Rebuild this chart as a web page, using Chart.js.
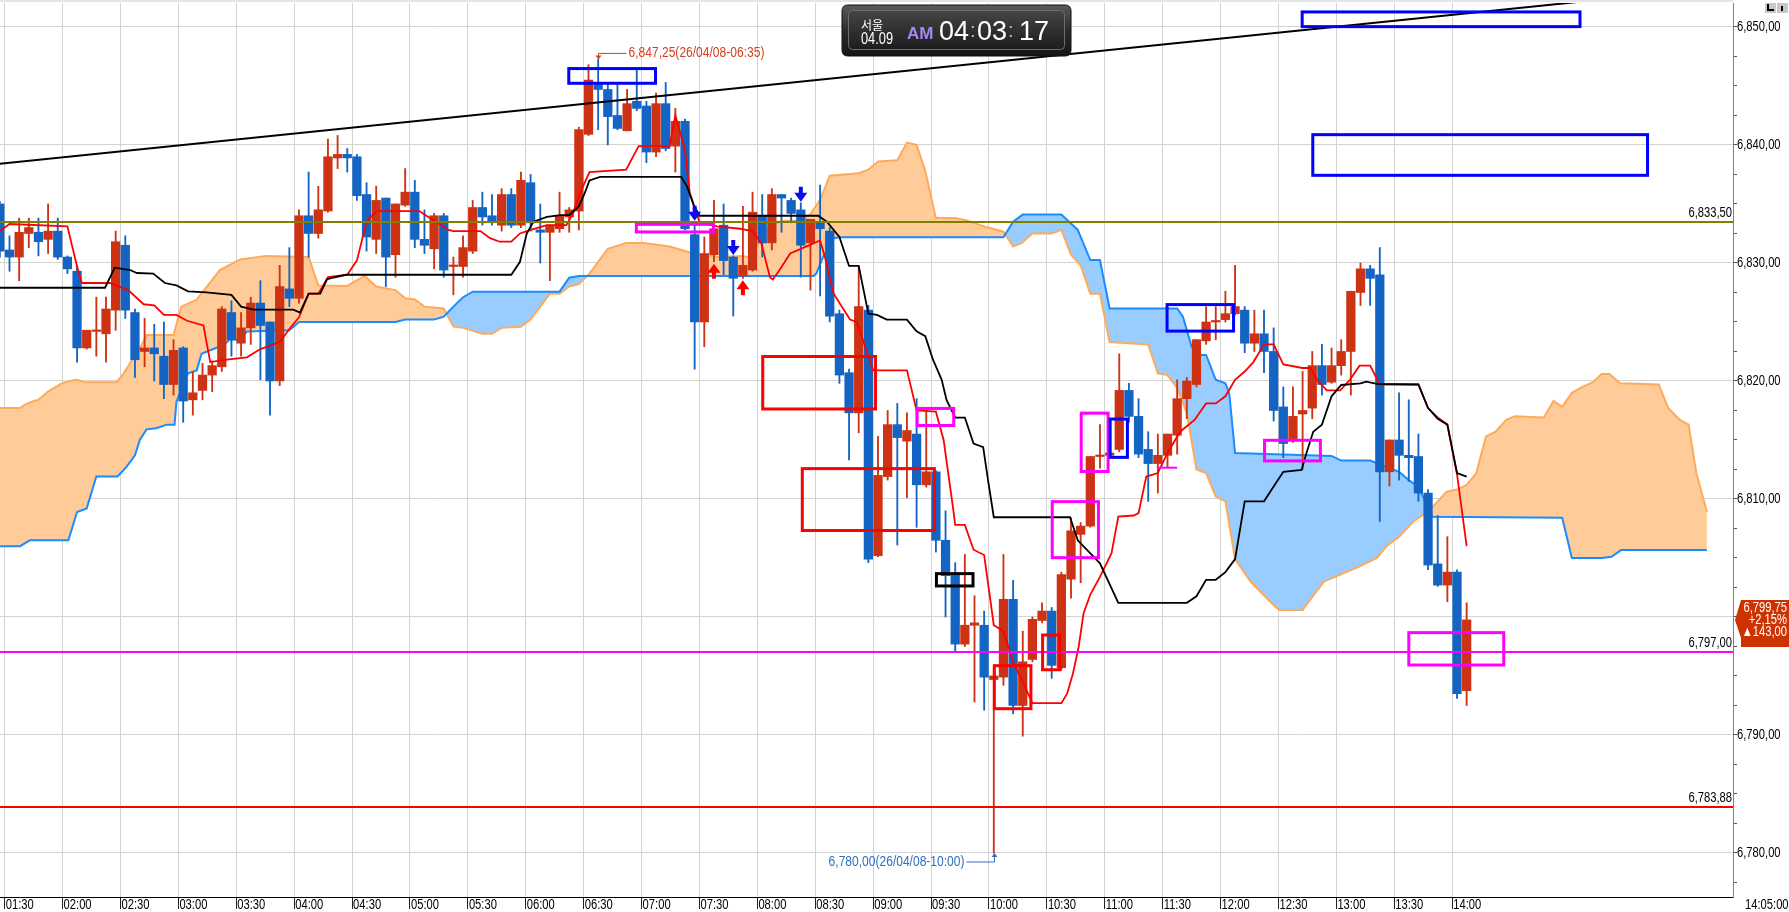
<!DOCTYPE html>
<html>
<head>
<meta charset="utf-8">
<script src="https://cdn.jsdelivr.net/npm/chart.js"></script>
<style>
html, body { margin: 0; padding: 0; background: #fff; overflow: hidden; }
canvas { display: block; }
</style>
</head>
<body>
<canvas id="chart" width="1789" height="912"></canvas>
<script>
const ctx = document.getElementById('chart');

// ---- data (5 min candles, index 1 = 01:30) ----
const timeLabels = ['01:30','02:00','02:30','03:00','03:30','04:00','04:30','05:00','05:30','06:00',
  '06:30','07:00','07:30','08:00','08:30','09:00','09:30','10:00','10:30','11:00',
  '11:30','12:00','12:30','13:00','13:30','14:00'];
const lastTime = '14:05:00';
const tradeDate = '26/04/08';

const opens = [
  6835.0,6831.1,6830.5,6832.5,6832.6,6832.0,6832.7,6830.5,6829.3,6822.8,
  6824.2,6824.0,6826.0,6831.5,6825.8,6822.5,6822.8,6822.1,6819.7,6822.8,
  6818.4,6819.2,6820.5,6821.2,6825.8,6823.2,6824.5,6826.6,6825.0,6820.0,
  6827.8,6827.0,6834.0,6832.5,6834.4,6838.9,6839.2,6839.0,6835.8,6832.0,
  6835.5,6830.7,6834.9,6836.0,6832.0,6831.2,6834.0,6829.7,6829.7,6831.0,
  6834.7,6834.0,6833.2,6835.8,6833.2,6836.8,6832.8,6832.6,6832.9,6833.9,
  6834.4,6840.9,6845.1,6844.7,6842.5,6841.2,6843.7,6843.3,6839.4,6843.5,
  6839.9,6842.0,6832.4,6825.0,6830.7,6833.2,6830.5,6828.9,6829.4,6834.0,
  6831.7,6835.8,6835.3,6834.5,6831.7,6833.5,6832.7,6825.7,6820.7,6817.3,
  6826.0,6805.2,6811.9,6816.3,6814.9,6815.5,6811.2,6812.3,6806.5,6803.6,
  6797.7,6799.3,6799.3,6794.7,6794.9,6801.5,6792.5,6796.4,6799.7,6800.5,
  6795.7,6803.2,6807.0,6807.7,6813.6,6813.7,6814.2,6819.2,6817.0,6814.2,
  6813.0,6813.7,6815.4,6818.5,6819.7,6823.4,6825.0,6825.2,6825.7,6826.0,
  6823.2,6824.0,6822.5,6817.8,6815.0,6817.2,6817.7,6821.3,6819.9,6821.3,
  6822.5,6827.5,6829.5,6829.0,6812.3,6815.0,6813.7,6813.6,6810.5,6804.5,
  6802.7,6803.8,6793.75];
const highs = [
  6835.2,6832.3,6833.8,6833.8,6833.8,6835.0,6833.8,6830.6,6829.8,6824.3,
  6827.1,6827.1,6832.7,6832.3,6826.1,6825.3,6824.8,6825.0,6823.5,6822.9,
  6820.8,6821.5,6821.7,6826.3,6826.8,6825.8,6827.1,6828.5,6825.0,6829.8,
  6831.3,6834.5,6837.7,6836.5,6840.5,6840.8,6839.7,6839.2,6836.8,6836.5,
  6835.5,6835.0,6838.0,6837.0,6834.5,6834.2,6834.2,6830.5,6832.3,6835.3,
  6836.0,6835.8,6836.3,6836.3,6837.7,6837.5,6835.0,6833.2,6836.0,6834.7,
  6841.5,6846.8,6847.25,6845.1,6845.1,6844.7,6846.4,6843.7,6844.4,6845.3,
  6843.1,6842.2,6833.5,6832.2,6835.3,6835.0,6830.6,6834.8,6836.0,6835.8,
  6836.3,6835.8,6835.5,6835.1,6833.7,6836.6,6833.0,6826.0,6821.0,6829.7,
  6826.4,6815.3,6817.5,6818.1,6817.3,6818.5,6817.5,6812.4,6809.0,6804.6,
  6805.3,6801.8,6800.5,6795.8,6805.3,6803.1,6798.8,6800.0,6801.2,6800.8,
  6803.8,6808.4,6808.0,6813.6,6816.3,6814.0,6822.3,6819.8,6818.5,6815.7,
  6815.5,6815.5,6820.1,6820.3,6823.5,6826.3,6826.3,6827.6,6829.8,6826.3,
  6826.0,6826.0,6824.5,6819.5,6819.5,6820.8,6822.5,6823.1,6822.8,6823.5,
  6827.6,6830.0,6829.8,6831.3,6815.0,6819.0,6818.4,6815.5,6810.8,6808.6,
  6806.8,6804.0,6801.2];
const lows = [
  6830.5,6829.3,6828.5,6831.3,6830.6,6830.8,6830.3,6829.1,6821.6,6822.7,
  6822.1,6821.6,6824.3,6825.3,6820.3,6821.2,6820.0,6818.5,6818.8,6816.5,
  6817.1,6818.4,6819.1,6820.8,6822.1,6822.1,6823.1,6820.1,6817.1,6819.6,
  6826.3,6826.6,6830.5,6832.1,6834.3,6838.0,6837.7,6835.3,6831.0,6830.8,
  6828.0,6828.8,6834.8,6831.3,6830.8,6829.5,6828.8,6827.3,6828.8,6830.8,
  6833.2,6833.2,6832.7,6833.0,6833.0,6832.7,6830.0,6828.5,6832.6,6832.6,
  6832.8,6840.8,6841.3,6840.0,6841.3,6841.2,6842.9,6838.5,6839.0,6839.5,
  6837.7,6832.8,6821.0,6822.9,6830.1,6829.0,6825.5,6828.7,6829.3,6830.5,
  6831.1,6832.6,6833.4,6828.8,6827.7,6827.2,6825.0,6819.8,6813.3,6815.6,
  6804.6,6805.1,6811.6,6806.1,6810.1,6807.6,6811.0,6805.5,6800.0,6797.1,
  6797.5,6792.8,6792.1,6780.0,6794.2,6791.8,6789.9,6796.2,6799.5,6794.8,
  6795.5,6801.6,6802.9,6807.6,6812.6,6813.6,6814.0,6816.5,6813.5,6809.8,
  6810.5,6812.7,6813.8,6816.8,6819.5,6823.1,6823.5,6825.0,6825.6,6822.4,
  6822.5,6820.7,6816.6,6813.5,6814.8,6812.5,6816.8,6818.8,6819.8,6820.5,
  6818.8,6826.4,6826.4,6808.1,6811.1,6811.6,6811.5,6809.8,6804.0,6802.6,
  6801.3,6793.1,6792.5];
const closes = [
  6831.0,6830.5,6832.6,6833.0,6831.8,6832.7,6830.5,6829.5,6822.8,6824.3,
  6824.3,6826.1,6831.8,6826.0,6821.8,6822.8,6822.3,6819.7,6822.6,6818.3,
  6819.0,6820.5,6821.3,6826.1,6823.5,6824.5,6826.6,6824.7,6820.0,6828.0,
  6827.0,6834.0,6832.5,6834.5,6839.0,6839.2,6838.9,6835.7,6832.2,6835.3,
  6830.5,6835.0,6836.0,6832.0,6831.5,6834.0,6829.4,6829.8,6831.3,6834.7,
  6833.9,6833.5,6835.8,6833.2,6837.0,6833.4,6832.6,6833.2,6834.0,6834.5,
  6841.3,6845.5,6844.7,6842.4,6841.4,6843.5,6843.1,6839.4,6843.5,6839.7,
  6842.0,6832.9,6825.0,6830.8,6832.9,6830.2,6828.7,6829.8,6834.3,6831.7,
  6835.8,6835.5,6834.2,6831.5,6833.7,6832.9,6825.5,6820.5,6817.3,6826.3,
  6804.9,6812.0,6816.3,6815.2,6815.8,6811.2,6812.3,6806.5,6803.5,6797.7,
  6799.3,6799.5,6794.9,6795.0,6801.5,6792.5,6796.2,6799.8,6800.5,6795.9,
  6803.6,6807.3,6807.7,6813.6,6813.7,6813.9,6819.2,6817.0,6813.8,6813.0,
  6813.7,6815.5,6818.5,6820.0,6823.5,6825.0,6825.1,6825.7,6826.3,6823.2,
  6824.0,6822.5,6817.5,6814.7,6817.0,6817.5,6821.3,6819.7,6821.3,6822.5,
  6827.6,6829.5,6828.7,6812.3,6815.0,6813.7,6813.5,6810.5,6804.4,6802.7,
  6803.8,6793.5,6799.75];

// Ichimoku lines as [candle index, value] read at their corners
const tenkanPts = [
  [0,6832.7],[1,6833.3],[7,6833.1],[8,6829.7],[8.5,6828.3],[11.4,6828.3],[13.3,6827.7],[14.9,6826.5],
  [16,6826.4],[17,6825.6],[18.3,6825.6],[19.4,6825.1],[21.1,6824.7],[21.8,6821.6],[23.5,6821.8],
  [25.6,6822.0],[27,6822.7],[29,6823.3],[30,6824.4],[31,6825.4],[32,6827.4],[33,6827.4],[34,6828.8],
  [36,6829.0],[37,6830.2],[38,6833.5],[39,6834.4],[43.5,6834.4],[44,6834.1],[46.5,6832.8],[47,6832.7],
  [49.8,6832.7],[50.8,6832.1],[51.8,6831.8],[53,6831.8],[53.9,6832.5],[55,6832.8],[56.7,6833.2],
  [58.7,6833.2],[59.4,6834.2],[60.1,6835.9],[61.1,6837.7],[64.9,6837.9],[66.2,6839.9],[69.4,6839.9],
  [70,6842.5],[71,6839.6],[71.5,6835.9],[72.5,6833.5],[74.3,6833.1],[76.7,6832.9],[78,6832.7],
  [78.9,6831.7],[79.8,6828.8],[80.1,6828.6],[80.8,6829.4],[81.9,6830.8],[83.6,6831.4],[85,6831.9],
  [85.5,6830.5],[86.4,6827.4],[88.1,6825.2],[88.8,6825.0],[90.5,6820.9],[94,6820.9],[95,6817.5],
  [97,6817.4],[97.8,6815.0],[98.8,6809.1],[99,6807.8],[100,6807.8],[100.9,6805.7],[102,6805.25],
  [103,6799.3],[104,6798.8],[105,6796.2],[106,6794.5],[107,6792.7],[110,6792.7],[110.6,6793.5],
  [111.2,6795.2],[111.8,6797.5],[112.3,6800.3],[113,6801.9],[114,6803.4],[115.2,6805.4],[115.9,6808.5],
  [117.5,6808.6],[118,6808.8],[118.8,6811.9],[120,6812.2],[121,6813.9],[122.3,6815.7],[123.8,6816.7],
  [125,6818.1],[126,6818.1],[127,6818.7],[128,6820.1],[129,6820.8],[129.9,6821.6],[131,6823.1],
  [132,6823.1],[133,6821.4],[135,6821.1],[135.8,6821.1],[136.5,6820.1],[137.5,6819.2],[138.9,6819.2],
  [139.9,6820.1],[140.9,6821.3],[142,6821.3],[143,6819.7],[147,6819.7],[148,6817.7],[149,6816.9],
  [150,6816.3],[151,6812.1],[152,6806.0]];
const kijunPts = [
  [0,6827.9],[10.9,6827.9],[11.9,6829.6],[13.5,6829.4],[14.2,6829.15],[15.9,6829.1],[17.1,6828.3],
  [18.3,6828.1],[19.5,6827.6],[21.4,6827.5],[24,6827.3],[25,6826.3],[26.3,6826.05],[30.4,6826.05],
  [31.1,6825.8],[32,6827.4],[33.2,6827.4],[33.9,6828.6],[34.2,6828.7],[35.9,6829.0],[53,6829.0],
  [53.9,6830.1],[54.6,6832.5],[55.3,6833.5],[56.7,6833.9],[58.1,6834.05],[59,6834.05],[60,6834.8],
  [60.6,6835.9],[61.1,6837.0],[62.2,6837.3],[70.6,6837.3],[71.2,6836.5],[71.9,6834.9],[72.5,6834.0],
  [84.8,6834.0],[85.7,6833.5],[87,6832.2],[88,6829.75],[89,6829.75],[90,6825.7],[90.9,6825.6],
  [91.9,6825.2],[94,6825.2],[95,6824.2],[95.9,6823.8],[96.7,6821.8],[97.6,6820.1],[98.1,6818.4],
  [99,6816.9],[100,6816.9],[100.9,6814.7],[101.9,6814.4],[102.4,6811.6],[103,6808.45],[110.9,6808.45],
  [111.7,6806.5],[114,6804.55],[115.9,6801.2],[123,6801.2],[124,6801.75],[125,6803.15],[126,6803.15],
  [127,6803.8],[128,6804.9],[129,6809.8],[131,6809.8],[132,6811.05],[133,6812.3],[134.9,6812.46],
  [135.4,6813.9],[136.1,6815.7],[137,6816.3],[138,6818.7],[139,6819.66],[141,6819.8],[141.6,6819.95],
  [142.7,6819.75],[147,6819.7],[148,6817.7],[149,6816.8],[150,6816.3],[151,6812.2],[152,6811.9]];
const spanAPts = [
  [0,6817.7],[2.1,6817.7],[2.6,6818.0],[3.5,6818.3],[4,6818.4],[5,6819.1],[6.4,6819.8],[7.3,6820.0],
  [8,6820.1],[8.8,6819.9],[12.1,6819.9],[12.8,6820.6],[13.8,6821.9],[14.7,6823.05],[15.2,6823.9],
  [18,6823.9],[18.8,6826.3],[20.4,6826.9],[22.8,6829.4],[24.9,6830.3],[27.6,6830.6],[32,6830.5],
  [33,6828.1],[36,6828.05],[37.8,6828.9],[39,6828.0],[41,6827.7],[42,6827.0],[43,6826.9],[44,6826.3],
  [46,6826.15],[47,6824.6],[48,6824.5],[50,6824.0],[51,6824.0],[52,6824.5],[54,6824.6],[55,6825.2],
  [56,6826.3],[57,6827.4],[58,6827.4],[59,6828.0],[60,6828.2],[61.1,6829.1],[63,6831.2],[64.9,6831.7],
  [66.7,6831.7],[69.4,6831.4],[71.9,6830.8],[74.6,6830.5],[77,6830.6],[78,6830.4],[79,6832.5],
  [80,6833.15],[81,6833.55],[83,6833.6],[84,6834.15],[85,6835.35],[86,6837.4],[89,6837.6],[90,6837.9],
  [91,6838.6],[93,6838.7],[94,6840.2],[95,6840.0],[95.9,6837.8],[97,6833.8],[99,6833.8],[100.2,6833.6],
  [102,6833.1],[104,6832.65],[105,6831.4],[105.9,6831.7],[107,6832.5],[109,6832.5],[110,6832.8],
  [111,6830.7],[112,6829.8],[113,6827.4],[114,6827.4],[115,6823.3],[119,6823.1],[120,6820.65],
  [121,6820.5],[122,6819.4],[123,6817.3],[124,6812.5],[125,6812.2],[126,6810.2],[127,6809.8],
  [128,6804.9],[129.6,6803.0],[132,6801.0],[132.6,6800.6],[135,6800.6],[137.2,6803.0],[140.7,6804.2],
  [142.7,6805.0],[143.7,6806.0],[145,6806.8],[146.5,6808.1],[147.7,6808.8],[148.5,6809.35],
  [149.9,6810.6],[151,6810.8],[152,6811.2],[153,6812.2],[154,6815.3],[155,6815.7],[156.1,6816.7],
  [157,6817.0],[160,6816.9],[161,6818.3],[161.9,6817.8],[162.9,6819.0],[164,6819.5],[165.1,6819.9],
  [166,6820.6],[166.8,6820.6],[167.9,6819.8],[171.9,6819.7],[172.9,6817.7],[174.1,6816.7],
  [175,6816.3],[175.8,6812.2],[176.9,6808.9]];
const spanBPts = [
  [0,6806.0],[2.1,6806.0],[3.1,6806.5],[7.1,6806.5],[8,6808.9],[9,6809.2],[10,6811.9],[12.2,6811.9],
  [13.1,6812.7],[14,6813.7],[14.5,6815.0],[15.2,6815.9],[16.2,6816.0],[17.3,6816.3],[18.1,6816.3],
  [18.3,6818.25],[19.5,6820.65],[20.4,6820.9],[20.9,6822.3],[21.8,6822.6],[23.2,6823.05],[23.8,6823.5],
  [24.9,6823.5],[25.6,6824.2],[30,6824.3],[31,6825.0],[41,6825.0],[42,6825.2],[45,6825.2],
  [46,6825.45],[47,6826.3],[48,6827.1],[49,6827.57],[58,6827.57],[59,6828.75],[60,6828.9],
  [84.3,6828.9],[84.6,6829.1],[85.3,6830.5],[86.4,6832.1],[87,6832.17],[104,6832.17],[105,6833.5],
  [106,6834.1],[110,6834.1],[111.7,6832.8],[113,6830.25],[114,6830.25],[115,6826.15],[122,6826.15],
  [122.6,6825.45],[123.5,6822.9],[124.3,6822.2],[125,6822.2],[126,6820.1],[127,6819.8],
  [127.4,6818.95],[128,6813.9],[138,6813.65],[139,6813.25],[142,6813.25],[145,6812.3],[146,6811.6],
  [147,6811.05],[148.4,6808.5],[161.9,6808.4],[162.9,6805.0],[166,6805.0],[167,6805.1],
  [168,6805.67],[176.9,6805.67]];

// drawn objects on the chart, in candle index / price units
const trendLine = [[0, 6838.4], [164.5, 6852.2]];
const levels = [6833.50, 6797.00, 6783.88];
const boxes = [
  [58.8, 68.1, 6846.6, 6845.1], [65.8, 74.1, 6833.4, 6832.5], [134.8, 163.9, 6851.4, 6849.9],
  [135.9, 170.9, 6841.0, 6837.3], [78.9, 90.9, 6822.2, 6817.5], [83.0, 97.0, 6812.7, 6807.2],
  [94.9, 99.0, 6817.8, 6816.1], [96.9, 101.0, 6803.8, 6802.5], [102.9, 107.0, 6796.0, 6792.1],
  [107.9, 110.0, 6798.6, 6795.4], [108.9, 114.0, 6809.9, 6804.9], [111.9, 115.0, 6817.4, 6812.2],
  [114.9, 117.0, 6816.9, 6813.4], [120.8, 128.0, 6826.6, 6824.1], [130.9, 137.0, 6815.1, 6813.1],
  [145.85, 156.0, 6798.8, 6795.8]];
const shortLine = [120, 122, 6812.65];
const sellSignals = [72, 76, 83];
const buySignals = [74, 77];
const changePct = '+2,15%';
const changePts = '\u25B2143,00';
const clockCity = '서울', clockDate = '04.09', clockAmPm = 'AM', clockTime = ['04', '03', '17'];

// ---- look ----
const FONT = "'Liberation Sans', sans-serif";
const UP = '#CD3214', DOWN = '#1464C3';
const levelColors = ['#808000', '#FF00FF', '#FF0000'];
const boxColors = ['#0000FF','#FF00FF','#0000FF','#0000FF','#FF0000','#FF0000','#FF00FF','#000000',
  '#FF0000','#FF0000','#FF00FF','#FF00FF','#0000FF','#0000FF','#FF00FF','#FF00FF'];

const xMin = 0.0155, xMax = 179.6, yMin = 6776.27, yMax = 6852.03;

const fmt = v => {
  const s = v.toFixed(2).split('.');
  return s[0].replace(/\B(?=(\d{3})+(?!\d))/g, ',') + ',' + s[1];
};
const timeOf = i => {
  const m = 90 + (i - 1) * 5;
  return String(Math.floor(m / 60)).padStart(2, '0') + ':' + String(m % 60).padStart(2, '0');
};
const pts = arr => arr.map(p => ({x: p[0], y: p[1]}));
const candleColors = closes.map((c, i) => c >= opens[i] ? UP : DOWN);

// narrow text, the HTS font is tall and condensed
const txt = (c, s, x, y, align, base, size, color, sx) => {
  c.save();
  c.translate(x, y);
  c.scale(sx || 0.8, 1);
  c.font = size + 'px ' + FONT;
  c.fillStyle = color;
  c.textAlign = align;
  c.textBaseline = base;
  c.fillText(s, 0, 0);
  c.restore();
};

const roundRect = (c, x, y, w, h, r) => {
  c.beginPath();
  c.moveTo(x + r, y); c.lineTo(x + w - r, y); c.quadraticCurveTo(x + w, y, x + w, y + r);
  c.lineTo(x + w, y + h - r); c.quadraticCurveTo(x + w, y + h, x + w - r, y + h);
  c.lineTo(x + r, y + h); c.quadraticCurveTo(x, y + h, x, y + h - r);
  c.lineTo(x, y + r); c.quadraticCurveTo(x, y, x + r, y); c.closePath();
};

const arrow = (c, x, tip, dir, color) => {
  const hh = 9, hw = 6.5, sh = 6, sw = 2;
  c.fillStyle = color;
  c.beginPath();
  c.moveTo(x, tip);
  c.lineTo(x - hw, tip - dir * hh); c.lineTo(x - sw, tip - dir * hh);
  c.lineTo(x - sw, tip - dir * (hh + sh)); c.lineTo(x + sw, tip - dir * (hh + sh));
  c.lineTo(x + sw, tip - dir * hh); c.lineTo(x + hw, tip - dir * hh);
  c.closePath(); c.fill();
};

const overlay = {
  id: 'overlay',
  beforeDraw(chart) {
    const c = chart.ctx;
    c.save();
    c.fillStyle = '#fff';
    c.fillRect(0, 0, chart.width, chart.height);
    c.fillStyle = '#e2e5e9';
    c.fillRect(0, 0, chart.chartArea.right, 2);
    c.restore();
  },
  afterDatasetsDraw(chart) {
    const c = chart.ctx, a = chart.chartArea;
    const X = v => chart.scales.x.getPixelForValue(v);
    const Y = v => chart.scales.y.getPixelForValue(v);
    c.save();
    c.beginPath(); c.rect(a.left, 0, a.right - a.left, a.bottom); c.clip();

    levels.forEach((v, k) => {
      const y = Math.round(Y(v));
      c.strokeStyle = levelColors[k]; c.lineWidth = 2;
      c.beginPath(); c.moveTo(a.left, y); c.lineTo(a.right, y); c.stroke();
      txt(c, fmt(v), a.right - 1, y - 1.5, 'right', 'bottom', 14, '#000');
    });

    c.lineWidth = 3;
    boxes.forEach((b, k) => {
      const x0 = X(b[0]), x1 = X(b[1]), y0 = Y(b[2]), y1 = Y(b[3]);
      c.strokeStyle = boxColors[k];
      c.strokeRect(x0 + 1.5, y0 + 1.5, x1 - x0 - 3, y1 - y0 - 3);
    });

    c.strokeStyle = '#FF00FF'; c.lineWidth = 2;
    c.beginPath(); c.moveTo(X(shortLine[0]), Y(shortLine[2])); c.lineTo(X(shortLine[1]), Y(shortLine[2])); c.stroke();

    sellSignals.forEach(i => arrow(c, X(i), Y(highs[i]) - 1, 1, '#0A0AEE'));
    buySignals.forEach(i => arrow(c, X(i), Y(lows[i]) + 2, -1, '#FF0000'));

    // highest / lowest price markers
    const hi = highs.indexOf(Math.max(...highs));
    const lo = lows.indexOf(Math.min(...lows));
    c.lineWidth = 1;
    let x = Math.round(X(hi)) + 0.5, y = Y(highs[hi]);
    c.strokeStyle = c.fillStyle = '#D2401E';
    c.beginPath(); c.moveTo(x, y - 6); c.lineTo(x + 28, y - 6); c.moveTo(x, y - 6); c.lineTo(x, y - 1); c.stroke();
    c.beginPath(); c.moveTo(x - 3, y - 4); c.lineTo(x + 3, y - 4); c.lineTo(x, y); c.closePath(); c.fill();
    txt(c, fmt(highs[hi]) + '(' + tradeDate + '-' + timeOf(hi) + ')', x + 30, y - 6, 'left', 'middle', 14, '#D2401E', 0.86);

    x = Math.round(X(lo)) + 0.5; y = Y(lows[lo]);
    c.strokeStyle = c.fillStyle = '#2E6FC4';
    c.beginPath(); c.moveTo(x, y + 9); c.lineTo(x - 28, y + 9); c.moveTo(x, y + 9); c.lineTo(x, y + 1); c.stroke();
    c.beginPath(); c.moveTo(x - 3, y + 4); c.lineTo(x + 3, y + 4); c.lineTo(x, y); c.closePath(); c.fill();
    txt(c, fmt(lows[lo]) + '(' + tradeDate + '-' + timeOf(lo) + ')', x - 30, y + 9, 'right', 'middle', 14, '#2E6FC4', 0.86);
    c.restore();
  },
  afterDraw(chart) {
    const c = chart.ctx, a = chart.chartArea;
    const xs = chart.scales.x, ys = chart.scales.y;
    c.save();

    // axis labels, taken from the scales' own ticks
    ys.ticks.forEach(t => {
      if (Math.abs(t.value % 10) < 0.01) {
        txt(c, fmt(t.value), a.right + 4, ys.getPixelForValue(t.value) + 0.5, 'left', 'middle', 14, '#000');
      }
    });
    xs.ticks.forEach((t, k) => {
      txt(c, timeLabels[k], xs.getPixelForValue(t.value) + 1, a.bottom + 1.5, 'left', 'top', 14, '#000');
    });
    txt(c, lastTime, a.right + 12, a.bottom + 1.5, 'left', 'top', 14, '#000');

    // last price tag
    const last = closes.length - 1;
    const py = ys.getPixelForValue(closes[last]);
    c.fillStyle = '#CC3300';
    c.beginPath();
    c.moveTo(a.right + 2, py); c.lineTo(a.right + 8, py - 20); c.lineTo(chart.width, py - 20);
    c.lineTo(chart.width, py + 27); c.lineTo(a.right + 8, py + 27); c.lineTo(a.right + 8, py + 18);
    c.closePath(); c.fill();
    txt(c, fmt(closes[last]), chart.width - 2, py - 8, 'right', 'alphabetic', 14, '#fff');
    txt(c, changePct, chart.width - 2, py + 4, 'right', 'alphabetic', 14, '#fff');
    txt(c, changePts, chart.width - 2, py + 16, 'right', 'alphabetic', 14, '#fff');

    // corner buttons
    c.fillStyle = '#c9c9c9';
    c.fillRect(1765, 3, 11, 10); c.fillRect(1777, 3, 11, 10);
    c.fillStyle = '#000';
    c.fillRect(1767, 4, 2, 7); c.fillRect(1767, 9, 7, 2); c.fillRect(1781, 6, 2, 5);

    // clock widget
    let g = c.createLinearGradient(0, 5, 0, 56);
    g.addColorStop(0, '#5a5a5a'); g.addColorStop(0.5, '#2c2c2c'); g.addColorStop(1, '#151515');
    roundRect(c, 842, 5, 229, 51, 6);
    c.fillStyle = g; c.fill();
    c.strokeStyle = '#111'; c.lineWidth = 1; c.stroke();
    g = c.createLinearGradient(0, 11, 0, 50);
    g.addColorStop(0, '#444'); g.addColorStop(1, '#1c1c1c');
    roundRect(c, 848.5, 10.5, 216, 39, 4);
    c.fillStyle = g; c.fill();
    c.strokeStyle = '#6e6e6e'; c.stroke();
    c.fillStyle = '#fff'; c.textAlign = 'left'; c.textBaseline = 'alphabetic';
    c.font = "12px 'Noto Sans CJK KR', sans-serif";
    c.fillText(clockCity, 861, 30);
    txt(c, clockDate, 861, 43.5, 'left', 'alphabetic', 16, '#fff');
    c.fillStyle = '#A587F0';
    c.font = "bold 17px 'Liberation Sans', sans-serif";
    c.fillText(clockAmPm, 907, 38.5);
    c.fillStyle = '#fff';
    c.font = "27px 'Liberation Sans', sans-serif";
    c.fillText(clockTime[0], 939, 39.5);
    c.fillText(clockTime[1], 977, 39.5);
    c.fillText(clockTime[2], 1019, 39.5);
    c.fillStyle = '#bbb';
    c.font = "20px 'Liberation Sans', sans-serif";
    c.fillText(':', 970, 37); c.fillText(':', 1008, 37);
    c.restore();
  }
};

const data = {
  datasets: [
    {
      type: 'line', label: 'span A', data: pts(spanAPts), order: 10,
      borderColor: '#FFAA5A', borderWidth: 2, pointRadius: 0, tension: 0,
      fill: {target: 1, above: '#FFCC99', below: '#99CCFF'}
    },
    {
      type: 'line', label: 'span B', data: pts(spanBPts), order: 9,
      borderColor: '#1A8CFF', borderWidth: 2, pointRadius: 0, tension: 0, fill: false
    },
    {
      type: 'bar', label: 'wick', order: 8, grouped: false,
      data: lows.map((l, i) => ({x: i, y: [l, highs[i]]})),
      backgroundColor: candleColors, barThickness: 1.2, borderWidth: 0, minBarLength: 1
    },
    {
      type: 'bar', label: 'body', order: 7, grouped: false,
      data: opens.map((o, i) => ({x: i, y: [o, closes[i]]})),
      backgroundColor: candleColors, barThickness: 8.6, borderWidth: 0, minBarLength: 1.5
    },
    {
      type: 'line', label: 'tenkan', data: pts(tenkanPts), order: 5,
      borderColor: '#FF0000', borderWidth: 1.8, pointRadius: 0, tension: 0, fill: false
    },
    {
      type: 'line', label: 'kijun', data: pts(kijunPts), order: 4,
      borderColor: '#000000', borderWidth: 1.8, pointRadius: 0, tension: 0, fill: false
    },
    {
      type: 'line', label: 'trend', data: pts(trendLine), order: 3,
      borderColor: '#000000', borderWidth: 2, pointRadius: 0, fill: false
    }
  ]
};

const config = {
  type: 'line',
  data: data,
  options: {
    responsive: false,
    animation: false,
    events: [],
    layout: {padding: {top: 3, left: 0, right: 0, bottom: 0}},
    plugins: {legend: {display: false}, tooltip: {enabled: false}},
    scales: {
      x: {
        type: 'linear', position: 'bottom', min: xMin, max: xMax, offset: false,
        afterBuildTicks: s => { s.ticks = timeLabels.map((t, k) => ({value: 0.5 + 6 * k})); },
        afterFit: s => { s.height = 15; s.paddingLeft = 0; s.paddingRight = 0; },
        grid: {color: '#d3d3d3', offset: false, tickLength: 12, tickColor: '#222'},
        border: {color: '#000', width: 1},
        ticks: {display: false, autoSkip: false, maxRotation: 0}
      },
      y: {
        type: 'linear', position: 'right', min: yMin, max: yMax,
        afterBuildTicks: s => {
          s.ticks = [];
          for (let v = Math.ceil(yMin / 2.5) * 2.5; v <= yMax; v += 2.5) s.ticks.push({value: v});
        },
        afterFit: s => { s.width = 56; s.paddingTop = 0; s.paddingBottom = 0; },
        grid: {
          color: c => (c.tick && Math.abs(c.tick.value % 10) < 0.01) ? '#d3d3d3' : 'rgba(0,0,0,0)',
          tickColor: '#555', tickLength: 4
        },
        border: {color: '#808080', width: 1},
        ticks: {display: false, autoSkip: false}
      }
    }
  },
  plugins: [overlay]
};

const chart1 = new Chart(ctx, config);
</script>
</body>
</html>
